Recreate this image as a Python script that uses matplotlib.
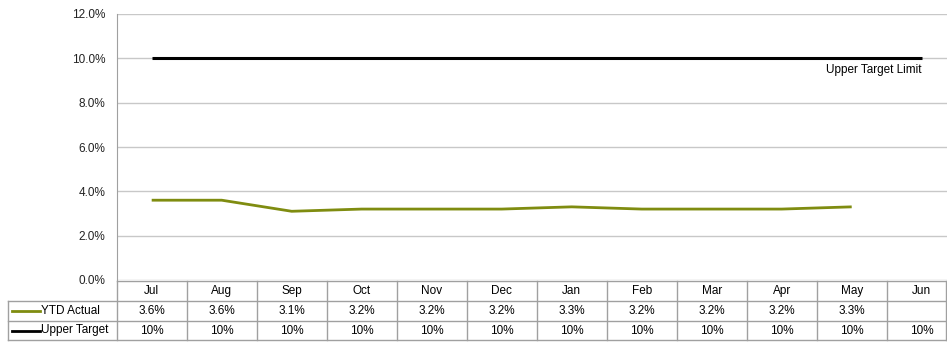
import matplotlib
matplotlib.use("Agg")
import matplotlib.pyplot as plt
from matplotlib.transforms import blended_transform_factory
from matplotlib.lines import Line2D

plt.rcParams['font.family'] = ['Liberation Sans', 'DejaVu Sans']

months = ["Jul", "Aug", "Sep", "Oct", "Nov", "Dec", "Jan", "Feb", "Mar", "Apr", "May", "Jun"]
ytd_actual = [3.6, 3.6, 3.1, 3.2, 3.2, 3.2, 3.3, 3.2, 3.2, 3.2, 3.3]
upper_target = [10, 10, 10, 10, 10, 10, 10, 10, 10, 10, 10, 10]
yticks = [0, 2, 4, 6, 8, 10, 12]

W, H = 947, 342
fig = plt.figure(figsize=(W / 100, H / 100), dpi=100)
n = len(months)
col_w = 70
left, top, bottom = 116.7, 14, 280
right = left + n * col_w  # extends past the canvas edge
ax = fig.add_axes([left / W, (H - bottom) / H, (right - left) / W, (bottom - top) / H])

x = list(range(n))
ax.set_xlim(-0.5, n - 0.5)
ax.set_ylim(0, 12)

ax.plot(x[:len(ytd_actual)], ytd_actual, color="#7f8c10", lw=2, solid_capstyle="butt")
ax.plot(x, upper_target, color="black", lw=2.2, solid_capstyle="butt")
ax.text(x[-1], upper_target[-1] - 0.25, "Upper Target Limit", ha="right", va="top", fontsize=8.5)

ax.set_yticks(yticks)
ax.set_yticklabels([f"{v:.1f}%" for v in yticks], fontsize=8.5, color="#222222")
ax.yaxis.grid(True, color="#c8c8c8", lw=1)
ax.set_axisbelow(True)
ax.tick_params(axis="y", length=0, pad=8)
ax.set_xticks([])
for s in ("top", "right", "bottom"):
    ax.spines[s].set_visible(False)
ax.spines["left"].set_color("#a0a0a0")

# data table below the plot
trans = blended_transform_factory(ax.transData, fig.transFigure)
ftrans = fig.transFigure
row_edges_px = [281, 301, 321, 340]
row_y = [(H - p) / H for p in row_edges_px]
grid_c = "#a0a0a0"
x_left_lab = 8 / W
x_left_ax = left / W
x_right = 1.0

for i, yy in enumerate(row_y):
    x0 = x_left_ax if i == 0 else x_left_lab
    fig.add_artist(Line2D([x0, x_right], [yy, yy], color=grid_c, lw=1, transform=ftrans))
for k in range(n):
    xv = k - 0.5
    fig.add_artist(Line2D([xv, xv], [row_y[0], row_y[-1]], color=grid_c, lw=1, transform=trans))
fig.add_artist(Line2D([945.7 / W, 945.7 / W], [row_y[0], row_y[-1]], color=grid_c, lw=1, transform=ftrans))
fig.add_artist(Line2D([x_left_lab, x_left_lab], [row_y[1], row_y[-1]], color=grid_c, lw=1, transform=ftrans))

def mid(i):
    return (row_y[i] + row_y[i + 1]) / 2

for k, m in enumerate(months):
    fig.text(k, mid(0), m, ha="center", va="center", fontsize=8.5, transform=trans)
for k, v in enumerate(ytd_actual):
    fig.text(k, mid(1), f"{v:.1f}%", ha="center", va="center", fontsize=8.5, transform=trans)
for k, v in enumerate(upper_target):
    fig.text(k, mid(2), f"{v:.0f}%", ha="center", va="center", fontsize=8.5, transform=trans)

# series keys in the label column
for i, (lab, col) in enumerate([("YTD Actual", "#7f8c10"), ("Upper Target", "black")]):
    yy = mid(i + 1)
    fig.add_artist(Line2D([12 / W, 40 / W], [yy, yy], color=col, lw=2, transform=ftrans))
    fig.text(41 / W, yy, lab, ha="left", va="center", fontsize=8.5)

fig.savefig("out.png", dpi=100)
